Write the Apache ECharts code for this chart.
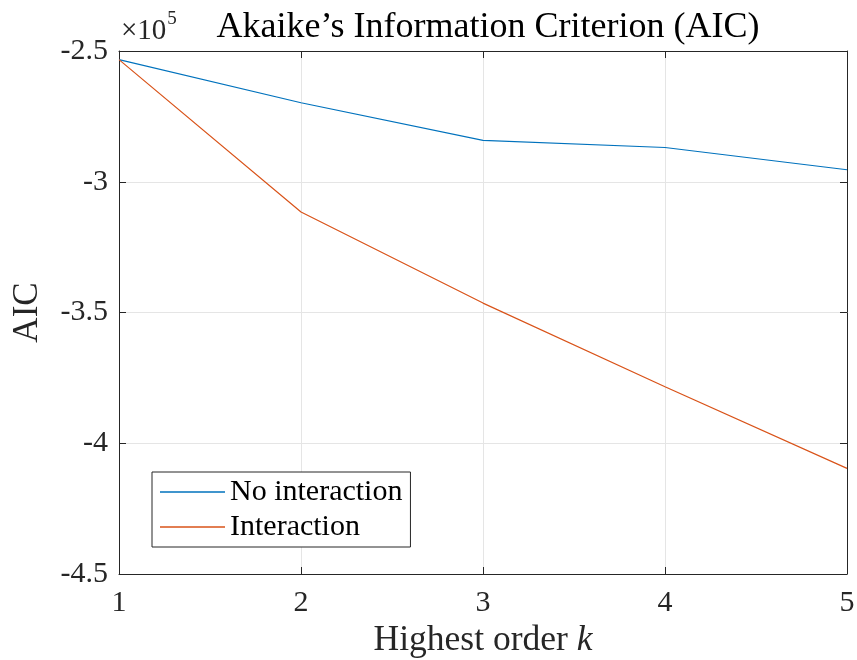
<!DOCTYPE html>
<html>
<head>
<meta charset="utf-8">
<script src="https://cdn.jsdelivr.net/npm/echarts@6/dist/echarts.min.js"></script>
<style>
  html, body { margin: 0; padding: 0; background: #fff; }
  #chart { width: 857px; height: 660px; }
</style>
</head>
<body>
<div id="chart"></div>
<script>
// Highest polynomial order k
const orders = [1, 2, 3, 4, 5];
// AIC values for each model variant
const aicNoInteraction = [-253300, -269800, -284200, -286900, -295400];
const aicInteraction = [-253300, -311600, -346400, -378400, -409600];
const seriesNames = ['No interaction', 'Interaction'];
const yTicks = [-450000, -400000, -350000, -300000, -250000];

const FONT = '"Liberation Serif", "DejaVu Serif", serif';
const AXIS_COLOR = '#262626';
const GRID_COLOR = '#e5e5e5';

const chart = echarts.init(document.getElementById('chart'), null, { renderer: 'canvas' });

const pairs = (ys) => orders.map((x, i) => [x, ys[i]]);
const fmtY = (v) => String(+(v / 1e5).toFixed(2));

const mirrorAxis = {
  axisLine: { show: true, onZero: false, lineStyle: { color: AXIS_COLOR, width: 1 } },
  axisTick: { show: true, inside: true, length: 7, lineStyle: { color: AXIS_COLOR } },
  axisLabel: { show: false },
  splitLine: { show: false }
};

chart.setOption({
  animation: false,
  backgroundColor: '#ffffff',
  title: {
    text: 'Akaike\u2019s Information Criterion (AIC)',
    left: 483,
    textAlign: 'center',
    top: 5,
    textStyle: { fontFamily: FONT, fontSize: 36, fontWeight: 'normal', color: '#000' }
  },
  graphic: [{
    type: 'text',
    left: 121,
    top: 10,
    style: {
      text: '{a|\u00d710}{s|5}',
      rich: {
        a: { fontFamily: FONT, fontSize: 29, fill: '#262626', verticalAlign: 'bottom', lineHeight: 36 },
        s: { fontFamily: FONT, fontSize: 19, fill: '#262626', verticalAlign: 'top', lineHeight: 36, padding: [0, 0, 14, 1] }
      }
    }
  }],
  legend: {
    orient: 'vertical',
    left: 152,
    top: 472,
    data: seriesNames.map((name) => ({ name, icon: 'rect' })),
    itemWidth: 65,
    itemHeight: 1.5,
    itemGap: 5,
    padding: [5, 8, 5, 8],
    borderColor: AXIS_COLOR,
    borderWidth: 1,
    backgroundColor: '#fff',
    textStyle: { fontFamily: FONT, fontSize: 30, color: '#000', lineHeight: 30 }
  },
  grid: { left: 119, right: 10, top: 51, bottom: 86, containLabel: false, outerBoundsMode: 'none' },
  xAxis: [{
    type: 'value',
    min: 1, max: 5, interval: 1,
    name: '{t|Highest order }{k|k}',
    nameLocation: 'middle',
    nameGap: 48,
    nameTextStyle: {
      rich: {
        t: { fontFamily: FONT, fontSize: 35.5, color: '#262626' },
        k: { fontFamily: FONT, fontSize: 35.5, fontStyle: 'italic', color: '#262626' }
      }
    },
    axisLine: { show: true, onZero: false, lineStyle: { color: AXIS_COLOR, width: 1 } },
    axisTick: { show: true, inside: true, length: 7, lineStyle: { color: AXIS_COLOR } },
    axisLabel: { fontFamily: FONT, fontSize: 30, color: '#262626', margin: 14 },
    splitLine: { show: true, lineStyle: { color: GRID_COLOR, width: 1 } }
  }, Object.assign({ type: 'value', position: 'top', min: 1, max: 5, interval: 1 }, mirrorAxis)],
  yAxis: [{
    type: 'value',
    min: yTicks[0], max: yTicks[yTicks.length - 1], interval: 50000,
    name: 'AIC',
    nameLocation: 'middle',
    nameGap: 74,
    nameTextStyle: { fontFamily: FONT, fontSize: 35, color: '#262626' },
    axisLine: { show: true, onZero: false, lineStyle: { color: AXIS_COLOR, width: 1 } },
    axisTick: { show: true, inside: true, length: 7, lineStyle: { color: AXIS_COLOR } },
    axisLabel: { fontFamily: FONT, fontSize: 30, color: '#262626', margin: 11, formatter: fmtY },
    splitLine: { show: true, lineStyle: { color: GRID_COLOR, width: 1 } }
  }, Object.assign({
    type: 'value', position: 'right',
    min: yTicks[0], max: yTicks[yTicks.length - 1], interval: 50000
  }, mirrorAxis)],
  series: [{
    name: seriesNames[0],
    type: 'line',
    data: pairs(aicNoInteraction),
    symbol: 'none',
    lineStyle: { color: '#0072BD', width: 1.2 },
    itemStyle: { color: '#0072BD' }
  }, {
    name: seriesNames[1],
    type: 'line',
    data: pairs(aicInteraction),
    symbol: 'none',
    lineStyle: { color: '#D95319', width: 1.2 },
    itemStyle: { color: '#D95319' }
  }]
});
</script>
</body>
</html>
